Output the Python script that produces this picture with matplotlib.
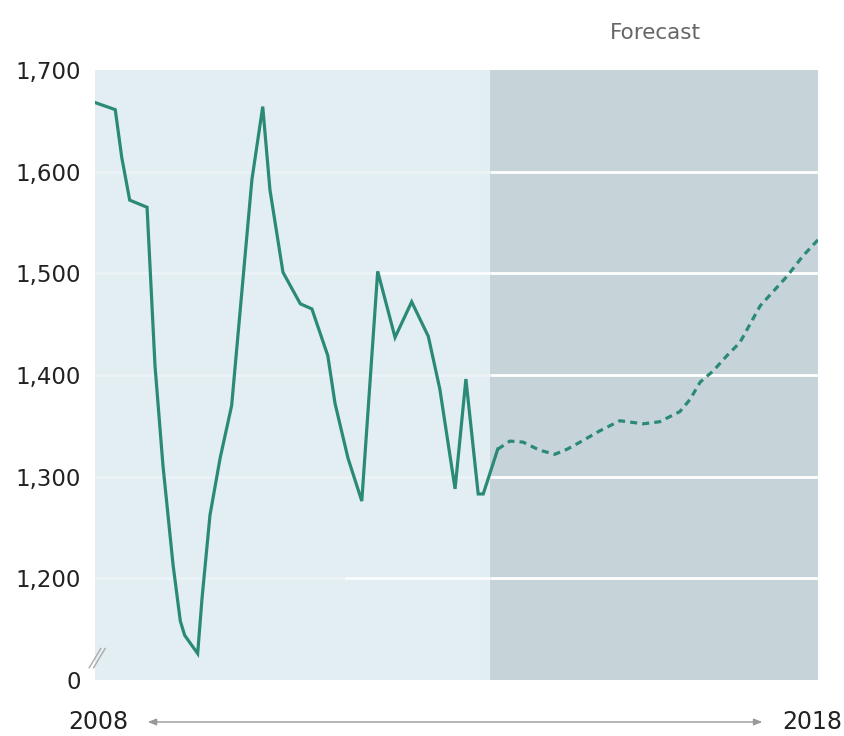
import matplotlib
matplotlib.use("Agg")
import matplotlib.pyplot as plt

# ---- data ----
hist_years = [2008.00, 2008.28, 2008.37, 2008.48, 2008.72, 2008.83, 2008.94, 2009.08,
              2009.18, 2009.24, 2009.42, 2009.48, 2009.59, 2009.73, 2009.89, 2010.17,
              2010.32, 2010.42, 2010.60, 2010.84, 2011.00, 2011.22, 2011.32, 2011.50,
              2011.69, 2011.91, 2012.15, 2012.38, 2012.61, 2012.77, 2012.98, 2013.13,
              2013.30, 2013.37, 2013.57]
hist_values = [1668, 1661, 1614, 1572, 1565, 1409, 1311, 1213,
               1158, 1144, 1126, 1180, 1262, 1318, 1370, 1592,
               1664, 1582, 1501, 1470, 1465, 1419, 1372, 1318,
               1276, 1502, 1437, 1472, 1438, 1386, 1288, 1396,
               1283, 1283, 1327]

fc_years = [2013.57, 2013.74, 2013.92, 2014.15, 2014.36, 2014.53, 2014.71, 2014.98,
            2015.26, 2015.58, 2015.81, 2016.09, 2016.23, 2016.37, 2016.55, 2016.74,
            2016.92, 2017.06, 2017.20, 2017.34, 2017.57, 2017.79, 2018.00]
fc_values = [1327, 1335, 1334, 1326, 1322, 1327, 1334, 1345,
             1355, 1352, 1354, 1364, 1376, 1393, 1404, 1419,
             1432, 1450, 1468, 1479, 1497, 1517, 1533]

forecast_start = 2013.46
y_ticks = [1100, 1200, 1300, 1400, 1500, 1600, 1700]
y_tick_labels = ["0", "1,200", "1,300", "1,400", "1,500", "1,600", "1,700"]
x_start_label, x_end_label = "2008", "2018"
forecast_label = "Forecast"

# ---- style ----
line_color = "#2a8a76"
left_bg = "#e3eef3"
right_bg = "#c6d4da"
text_color = "#222222"
font = ["DejaVu Sans"]

fig = plt.figure(figsize=(8.45, 7.36), dpi=100)
ax = fig.add_axes([95/845, 1 - 680/736, (818-95)/845, (680-70)/736])
ax.set_xlim(2008, 2018)
ax.set_ylim(1100, 1700)

ax.axvspan(2008, forecast_start, color=left_bg, zorder=0, lw=0)
ax.axvspan(forecast_start, 2018, color=right_bg, zorder=0, lw=0)

# gridlines
for y in [1200, 1300, 1400, 1500, 1600]:
    ax.hlines(y, forecast_start, 2018, color="white", lw=2, zorder=1)
    ax.hlines(y, 2008, forecast_start, color="white", lw=2, alpha=0.3, zorder=1)
ax.hlines(1500, 2011.94, forecast_start, color="white", lw=2, alpha=0.8, zorder=1)
ax.hlines(1200, 2011.46, forecast_start, color="white", lw=2, alpha=0.8, zorder=1)

ax.plot(hist_years, hist_values, color=line_color, lw=2.3, zorder=3,
        solid_joinstyle="miter")
ax.plot(fc_years, fc_values, color=line_color, lw=2.3, zorder=3,
        linestyle=(0, (2.2, 1.6)))

ax.set_yticks(y_ticks)
ax.set_yticklabels(y_tick_labels, fontfamily=font, fontsize=16.5, color=text_color)
ax.tick_params(axis="y", length=0, pad=10)
ax.set_xticks([])
for s in ax.spines.values():
    s.set_visible(False)

# axis break mark
for dx in (0.0, 0.06):
    ax.plot([2007.92 + dx, 2008.08 + dx], [1112, 1131], color="#aaaaaa", lw=1,
            clip_on=False, zorder=4)

# Forecast label
ax.text(2015.75, 1736, forecast_label, ha="center", va="center", fontsize=15.5,
        color="#666666", fontfamily=font)

# time arrow
yarr = -42/610
ax.annotate("", xy=(2017.23, yarr), xytext=(2008.73, yarr),
            xycoords=("data", "axes fraction"), textcoords=("data", "axes fraction"),
            arrowprops=dict(arrowstyle="<|-|>,head_length=0.5,head_width=0.2",
                            color="#999999", lw=1, shrinkA=0, shrinkB=0))
ax.text(2008.05, yarr, x_start_label, transform=ax.get_xaxis_transform(),
        ha="center", va="center", fontsize=17, color=text_color, fontfamily=font)
ax.text(2017.92, yarr, x_end_label, transform=ax.get_xaxis_transform(),
        ha="center", va="center", fontsize=17, color=text_color, fontfamily=font)

fig.savefig("out.png", dpi=100, facecolor="white")
